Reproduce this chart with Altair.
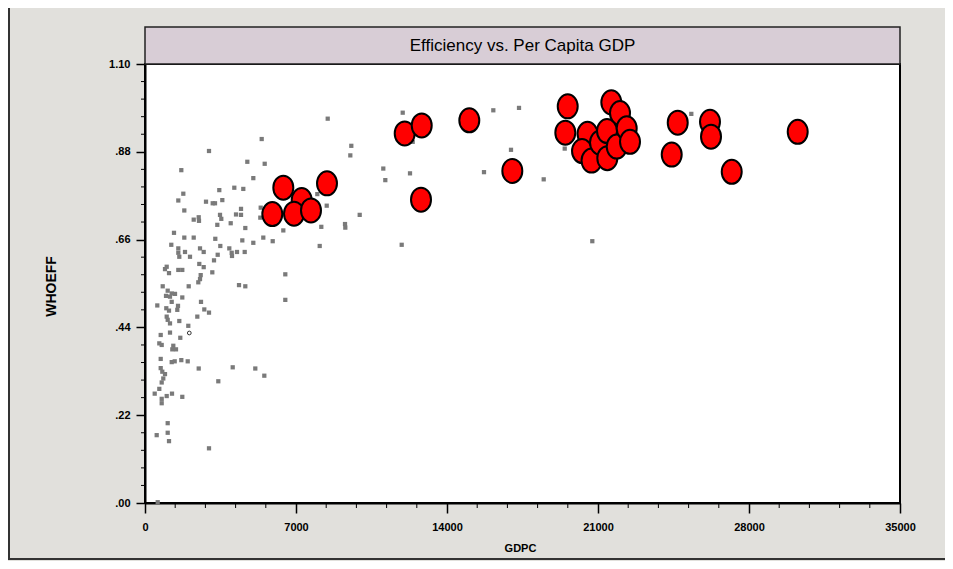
import altair as alt
import pandas as pd

# ---------------- data ----------------
gray_gdpc = [5410, 8470, 2967, 9564, 9518, 4743, 5549, 1683, 5021, 4140, 4557, 3444, 1776, 7988,
             1544, 2828, 3139, 3245, 3584, 1822, 4451, 5364, 8424, 3477, 3537, 4219, 4451, 5345,
             2258, 2490, 2503, 3352, 3973, 4650, 6412, 8173, 9272, 9286, 9953, 1344, 1822, 2258,
             3259, 4511, 5484, 5920, 5021, 1219, 1544, 1544, 1590, 1854, 2086, 2550, 2721, 3491,
             3908, 4019, 4033, 4265, 4622, 3370, 8099, 3199, 1006, 927, 1113, 1544, 1729, 2517,
             2721, 2582, 2550, 2471, 3120, 6504, 4358, 4650, 2026, 821, 1052, 1238, 1391, 974,
             1159, 1729, 570, 1238, 1530, 1497, 2596, 2749, 2967, 6504, 987, 1113, 1006, 2425,
             1052, 1159, 1590, 2007, 728, 1159, 1636, 663, 774, 1312, 1266, 1437, 728, 1238,
             1377, 1683, 1980, 728, 802, 927, 848, 774, 2490, 4066, 5113, 5531, 3398, 663, 450,
             1006, 1252, 774, 774, 1729, 1052, 1052, 1113, 542, 2967, 589, 11047, 11140, 11947,
             16147, 17338, 12410, 16967, 19457, 12285, 15715, 18483, 11900, 20736, 25326]
gray_whoeff = [.912, .963, .882, .895, .871, .855, .850, .834, .814, .790, .787, .784, .775, .774,
               .758, .755, .751, .751, .759, .733, .737, .740, .745, .722, .712, .723, .722, .715,
               .710, .716, .707, .697, .701, .689, .683, .692, .699, .690, .722, .677, .665, .665,
               .662, .658, .665, .656, .652, .647, .638, .627, .617, .629, .617, .638, .629, .644,
               .638, .627, .619, .629, .629, .622, .644, .608, .592, .586, .576, .584, .584, .599,
               .591, .571, .561, .553, .578, .573, .546, .543, .543, .543, .532, .525, .524, .519,
               .517, .515, .495, .504, .494, .484, .504, .485, .477, .509, .488, .482, .467, .467,
               .459, .450, .456, .444, .421, .427, .414, .400, .396, .394, .385, .385, .361, .353,
               .355, .358, .355, .338, .329, .323, .312, .302, .337, .340, .337, .319, .305, .286,
               .274, .268, .274, .261, .250, .266, .200, .176, .155, .170, .137, .002, .838, .809,
               .978, .984, .990, .905, .885, .888, .826, .829, .811, .647, .656, .975]

hollow_gdpc = [2054]
hollow_whoeff = [0.426]

red_gdpc = [6412, 7264, 5902, 6907, 7695, 8437, 12039, 12828, 15034, 12795, 17028, 19596, 19485,
            21617, 22020, 20514, 20259, 20700, 21093, 21418, 21432, 21868, 22331, 22484, 24696,
            24417, 26192, 26239, 27199, 30258]
red_whoeff = [.790, .759, .724, .725, .733, .801, .926, .946, .959, .760, .832, .994, .928,
              1.004, .977, .925, .882, .858, .903, .932, .864, .893, .939, .905, .953,
              .873, .955, .918, .830, .930]

x_major = [0, 7000, 14000, 21000, 28000, 35000]
x_minor = [1400, 2800, 4200, 5600, 8400, 9800, 11200, 12600, 15400, 16800, 18200, 19600,
           22400, 23800, 25200, 26600, 29400, 30800, 32200, 33600]
y_major = [0.0, 0.22, 0.44, 0.66, 0.88, 1.10]
y_minor = [0.044, 0.088, 0.132, 0.176, 0.264, 0.308, 0.352, 0.396, 0.484, 0.528, 0.572, 0.616,
           0.704, 0.748, 0.792, 0.836, 0.924, 0.968, 1.012, 1.056]

title_text = "Efficiency vs. Per Capita GDP"
x_title = "GDPC"
y_title = "WHOEFF"

# ---------------- chart ----------------
W, H = 755, 439
FONT = "Liberation Sans"

gray_df = pd.DataFrame({"GDPC": gray_gdpc, "WHOEFF": gray_whoeff})
hollow_df = pd.DataFrame({"GDPC": hollow_gdpc, "WHOEFF": hollow_whoeff})
red_df = pd.DataFrame({"GDPC": red_gdpc, "WHOEFF": red_whoeff})
xminor_df = pd.DataFrame({"GDPC": x_minor})
yminor_df = pd.DataFrame({"WHOEFF": y_minor})

xscale = alt.Scale(domain=[0, 35000], nice=False, zero=False)
yscale = alt.Scale(domain=[0, 1.10], nice=False, zero=False)

xaxis = alt.Axis(values=x_major, format="d", title=x_title, grid=False,
                 tickSize=10, tickColor="black", tickWidth=1.5,
                 domainColor="black", domainWidth=2,
                 labelFont=FONT, labelFontWeight="bold", labelFontSize=11, labelColor="black",
                 labelPadding=8, labelFlush=False, labelOverlap=False,
                 titleFont=FONT, titleFontWeight="bold", titleFontSize=11, titleColor="black",
                 titleX=375, titleY=45, titleBaseline="middle", titleAlign="center")
yaxis = alt.Axis(values=y_major, title=y_title, grid=False,
                 labelExpr="datum.value >= 1 ? format(datum.value, '.2f') : substring(format(datum.value, '.2f'), 1)",
                 tickSize=9, tickColor="black", tickWidth=1.5,
                 domainColor="black", domainWidth=2,
                 labelFont=FONT, labelFontWeight="bold", labelFontSize=11, labelColor="black",
                 labelPadding=6, labelOverlap=False, labelFlush=False,
                 titleFont=FONT, titleFontWeight="bold", titleFontSize=14, titleColor="black",
                 titleAngle=270, titleX=-94, titleY=222, titleBaseline="middle", titleAlign="center")

X = alt.X("GDPC:Q", scale=xscale, axis=xaxis)
Y = alt.Y("WHOEFF:Q", scale=yscale, axis=yaxis)

gray = alt.Chart(gray_df).mark_square(size=18, color="#7a7a7a", opacity=1).encode(x=X, y=Y)

hollow = alt.Chart(hollow_df).mark_point(shape="circle", size=14, filled=False,
                                          stroke="#333333", strokeWidth=1, opacity=1).encode(x=X, y=Y)

ellipse = "M -0.833 0 A 0.833 1 0 1 0 0.833 0 A 0.833 1 0 1 0 -0.833 0 Z"
red = alt.Chart(red_df).mark_point(shape=ellipse, size=576, filled=True, fill="#ff0000",
                                   stroke="black", strokeWidth=2, opacity=1).encode(x=X, y=Y)

xminor = alt.Chart(xminor_df).mark_rule(color="black", strokeWidth=1).encode(
    x=X, y=alt.value(H), y2=alt.value(H + 5))
yminor = alt.Chart(yminor_df).mark_rule(color="black", strokeWidth=1).encode(
    y=Y, x=alt.value(-4), x2=alt.value(0))

one = alt.Data(values=[{"t": title_text}])
band = alt.Chart(one).mark_rect(fill="#d8cdd6", stroke="#222222", strokeWidth=1.5).encode(
    x=alt.value(0), x2=alt.value(W), y=alt.value(-37), y2=alt.value(0))
title = alt.Chart(one).mark_text(font=FONT, fontSize=17, color="black",
                                 align="center", baseline="middle").encode(
    x=alt.value(W / 2), y=alt.value(-18), text="t:N")

frame_left = alt.Chart(alt.Data(values=[{"a": 1}])).mark_rule(color="#333333", strokeWidth=2).encode(
    x=alt.value(-136), y=alt.value(-56), y2=alt.value(496))
frame_bottom = alt.Chart(alt.Data(values=[{"a": 1}])).mark_rule(color="#333333", strokeWidth=2).encode(
    x=alt.value(-137), x2=alt.value(800), y=alt.value(495))

chart = alt.layer(gray, hollow, red, xminor, yminor, band, title, frame_left, frame_bottom).properties(
    width=W, height=H,
    autosize=alt.AutoSizeParams(type="none"),
    padding={"left": 137, "top": 56, "right": 45, "bottom": 58},
    background="#e1e0dc",
).configure_view(
    stroke="black", strokeWidth=2, fill="white"
)

chart.save("out.html", embed_options={"renderer": "svg", "actions": False})
